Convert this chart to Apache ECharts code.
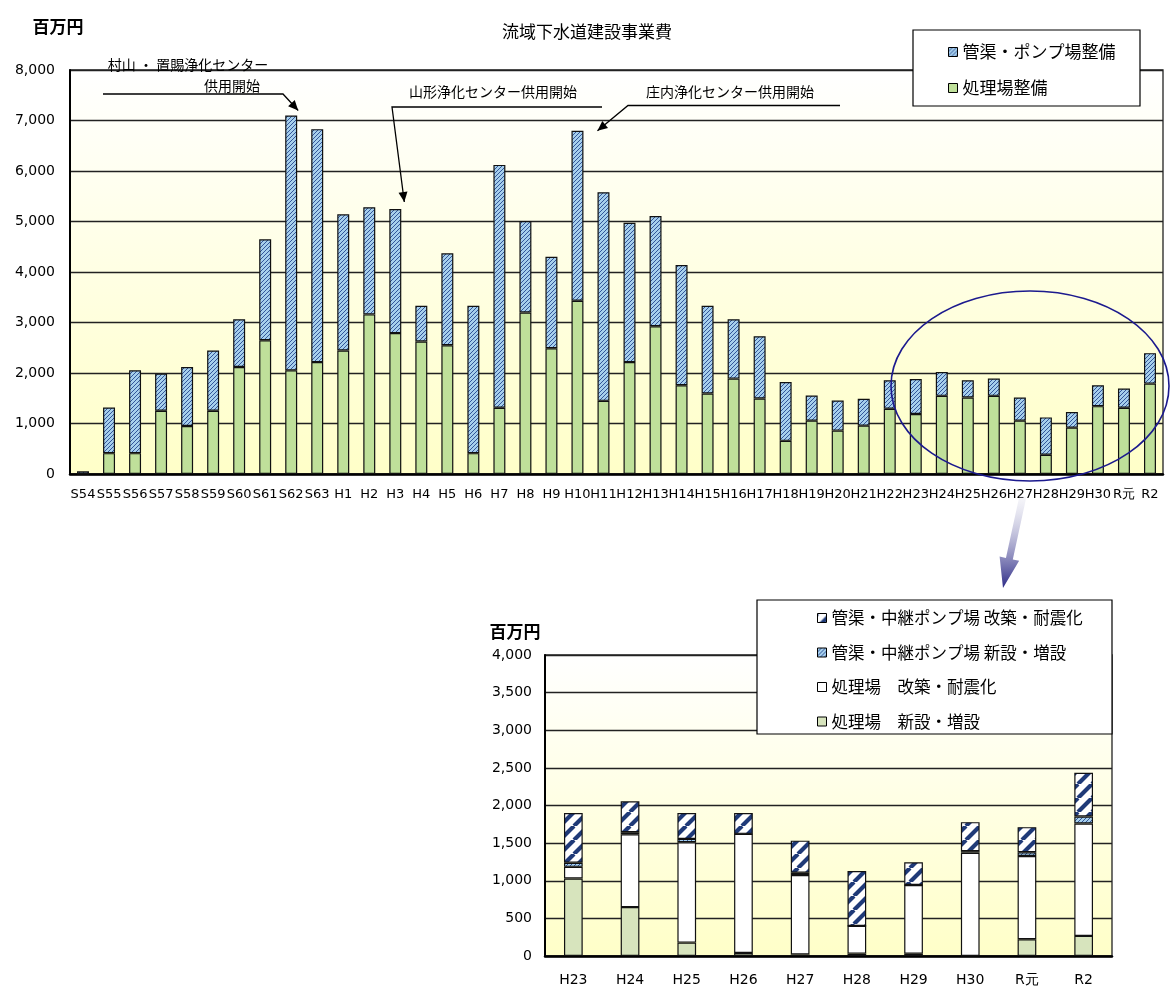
<!DOCTYPE html>
<html>
<head>
<meta charset="utf-8">
<script src="https://cdn.jsdelivr.net/npm/echarts@6/dist/echarts.min.js"></script>
<style>
  html, body { margin: 0; padding: 0; background: #fff; }
  #chart { width: 1170px; height: 987px; }
</style>
</head>
<body>
<div id="chart"></div>
<script>
// 年度（上段：全期間）
const years = ['S54','S55','S56','S57','S58','S59','S60','S61','S62','S63',
  'H1','H2','H3','H4','H5','H6','H7','H8','H9','H10',
  'H11','H12','H13','H14','H15','H16','H17','H18','H19','H20',
  'H21','H22','H23','H24','H25','H26','H27','H28','H29','H30','R元','R2'];

// 処理場整備（百万円）
const plantWorks = [0, 413, 413, 1252, 951, 1252, 2118, 2650, 2052, 2216,
  2446, 3160, 2790, 2625, 2550, 413, 1311, 3198, 2490, 3430,
  1449, 2216, 2927, 1757, 1593, 1889, 1495, 656, 1056, 859,
  957, 1292, 1187, 1548, 1515, 1548, 1056, 380, 918, 1344, 1311, 1790];

// 管渠・ポンプ場整備（百万円）
const sewerWorks = [52, 905, 1639, 735, 1167, 1194, 947, 1997, 5047, 4613,
  2697, 2122, 2458, 705, 1819, 2917, 4810, 1812, 1812, 3366,
  4130, 2760, 2182, 2380, 1737, 1176, 1233, 1167, 498, 597,
  532, 564, 695, 472, 341, 341, 459, 741, 308, 413, 381, 603];

// 年度（下段：H23以降の内訳）
const recentYears = ['H23','H24','H25','H26','H27','H28','H29','H30','R元','R2'];
const plantNew     = [1030, 650, 178, 40, 20, 32, 30, 0, 223, 267];
const plantRenew   = [155, 968, 1334, 1583, 1056, 368, 913, 1373, 1106, 1493];
const sewerNew     = [55, 27, 44, 0, 31, 0, 0, 20, 50, 93];
const sewerRenew   = [660, 410, 343, 276, 426, 729, 302, 386, 333, 583];

// 系列名
const NAME_SEWER = '管渠・ポンプ場整備';
const NAME_PLANT = '処理場整備';
const NAME_SR = '管渠・中継ポンプ場 改築・耐震化';
const NAME_SN = '管渠・中継ポンプ場 新設・増設';
const NAME_PR = '処理場　改築・耐震化';
const NAME_PN = '処理場　新設・増設';

const JP = '"Noto Sans CJK JP", "Noto Sans", sans-serif';
const NUM = '"DejaVu Sans", Verdana, sans-serif';

// 斜線ハッチのパターンを作る
function hatch(bg, fg, size, lw) {
  const c = document.createElement('canvas');
  c.width = size; c.height = size;
  const g = c.getContext('2d');
  g.fillStyle = bg;
  g.fillRect(0, 0, size, size);
  g.strokeStyle = fg;
  g.lineWidth = lw;
  g.beginPath();
  for (const o of [-size, 0, size]) {
    g.moveTo(o, size);
    g.lineTo(o + size, 0);
  }
  g.stroke();
  return { image: c, repeat: 'repeat' };
}

const fineBlue = hatch('#a6cfec', '#33569a', 4, 1);
const boldNavy = hatch('#ffffff', '#1f3a78', 14, 4.2);
const green = '#bfe09a';
const sage = '#d7e4bd';

const plotBg = {
  type: 'linear', x: 0, y: 0, x2: 0, y2: 1,
  colorStops: [{ offset: 0, color: '#ffffff' }, { offset: 1, color: '#ffffc8' }]
};

const barBorder = { borderColor: '#111', borderWidth: 1.2 };

const chart = echarts.init(document.getElementById('chart'), null, { renderer: 'canvas' });

const option = {
  animation: false,
  backgroundColor: '#ffffff',
  grid: [
    { left: 70, top: 70, width: 1093, height: 404, show: true,
      backgroundColor: plotBg, borderColor: '#222', borderWidth: 1.3 },
    { left: 545, top: 655, width: 567, height: 301, show: true,
      backgroundColor: plotBg, borderColor: '#222', borderWidth: 1.3 }
  ],
  xAxis: [
    { type: 'category', gridIndex: 0, data: years,
      axisLine: { lineStyle: { color: '#000', width: 2.5 } },
      axisTick: { inside: true, length: 4, lineStyle: { color: '#000', width: 1.2 } },
      axisLabel: { interval: 0, color: '#000', fontSize: 13, fontFamily: NUM, margin: 14 } },
    { type: 'category', gridIndex: 1, data: recentYears,
      axisLine: { lineStyle: { color: '#000', width: 2.5 } },
      axisTick: { inside: true, length: 5, lineStyle: { color: '#000', width: 1.2 } },
      axisLabel: { interval: 0, color: '#000', fontSize: 14, fontFamily: NUM, margin: 17 } }
  ],
  yAxis: [
    { type: 'value', gridIndex: 0, min: 0, max: 8000, interval: 1000,
      axisLine: { show: true, lineStyle: { color: '#000', width: 2 } },
      axisTick: { show: false },
      splitLine: { lineStyle: { color: '#222', width: 1.3 } },
      axisLabel: { color: '#000', fontSize: 14, fontFamily: NUM, margin: 15,
        formatter: v => v.toLocaleString('en-US') } },
    { type: 'value', gridIndex: 1, min: 0, max: 4000, interval: 500,
      axisLine: { show: true, lineStyle: { color: '#000', width: 2 } },
      axisTick: { show: false },
      splitLine: { lineStyle: { color: '#222', width: 1.3 } },
      axisLabel: { color: '#000', fontSize: 14, fontFamily: NUM, margin: 13,
        formatter: v => v.toLocaleString('en-US') } }
  ],
  legend: [
    { data: [NAME_SEWER, NAME_PLANT], orient: 'vertical', left: 948, top: 42,
      padding: 0, itemGap: 16, itemWidth: 9, itemHeight: 9, z: 20, icon: 'rect',
      itemStyle: { borderColor: '#000', borderWidth: 1 },
      textStyle: { fontSize: 17, fontFamily: JP, color: '#000', lineHeight: 20 } },
    { data: [NAME_SR, NAME_SN, NAME_PR, NAME_PN], orient: 'vertical', left: 817, top: 608,
      padding: 0, itemGap: 14.5, itemWidth: 9, itemHeight: 9, z: 20, icon: 'rect',
      itemStyle: { borderColor: '#000', borderWidth: 1 },
      textStyle: { fontSize: 16.5, fontFamily: JP, color: '#000', lineHeight: 20 } }
  ],
  series: [
    { name: NAME_PLANT, type: 'bar', xAxisIndex: 0, yAxisIndex: 0, stack: 'all',
      barWidth: '46%', data: plantWorks, itemStyle: Object.assign({ color: green }, barBorder) },
    { name: NAME_SEWER, type: 'bar', xAxisIndex: 0, yAxisIndex: 0, stack: 'all',
      barWidth: '46%', data: sewerWorks, itemStyle: Object.assign({ color: fineBlue }, barBorder) },

    { name: NAME_PN, type: 'bar', xAxisIndex: 1, yAxisIndex: 1, stack: 'recent',
      barWidth: '33%', data: plantNew, itemStyle: Object.assign({ color: sage }, barBorder) },
    { name: NAME_PR, type: 'bar', xAxisIndex: 1, yAxisIndex: 1, stack: 'recent',
      barWidth: '33%', data: plantRenew, itemStyle: Object.assign({ color: '#ffffff' }, barBorder) },
    { name: NAME_SN, type: 'bar', xAxisIndex: 1, yAxisIndex: 1, stack: 'recent',
      barWidth: '33%', data: sewerNew, itemStyle: Object.assign({ color: fineBlue }, barBorder) },
    { name: NAME_SR, type: 'bar', xAxisIndex: 1, yAxisIndex: 1, stack: 'recent',
      barWidth: '33%', data: sewerRenew, itemStyle: Object.assign({ color: boldNavy }, barBorder) }
  ]
};

chart.setOption(option);

// 積み上げ棒の頂点（画素座標）
function barTop(cat) {
  const i = years.indexOf(cat);
  return chart.convertToPixel({ gridIndex: 0 }, [i, plantWorks[i] + sewerWorks[i]]);
}

// 矢印の頭（三角形）
function arrowHead(from, to, len, half) {
  const dx = to[0] - from[0], dy = to[1] - from[1];
  const L = Math.hypot(dx, dy);
  const ux = dx / L, uy = dy / L, nx = -uy, ny = ux;
  const bx = to[0] - ux * len, by = to[1] - uy * len;
  return [[to[0], to[1]], [bx + nx * half, by + ny * half], [bx - nx * half, by - ny * half]];
}

function callout(points, color) {
  const n = points.length;
  return [
    { type: 'polyline', z: 30, shape: { points: points },
      style: { stroke: color, lineWidth: 1.3, fill: null } },
    { type: 'polygon', z: 30, shape: { points: arrowHead(points[n - 2], points[n - 1], 10, 4.5) },
      style: { fill: color } }
  ];
}

function label(text, x, y, size, bold) {
  return { type: 'text', z: 30, x: x, y: y,
    style: { text: text, fill: '#000', font: (bold ? 'bold ' : '') + size + 'px ' + JP,
      textAlign: 'center', textVerticalAlign: 'middle' } };
}

const s62 = barTop('S62');
const h3 = barTop('H3');
const h10 = barTop('H10');

// 下段へ導くグラデーション矢印
function fatArrow(start, tip, shaftHalf, headHalf, headLen) {
  const dx = tip[0] - start[0], dy = tip[1] - start[1];
  const L = Math.hypot(dx, dy);
  const ux = dx / L, uy = dy / L, nx = -uy, ny = ux;
  const bx = tip[0] - ux * headLen, by = tip[1] - uy * headLen;
  return [
    [start[0] + nx * shaftHalf, start[1] + ny * shaftHalf],
    [bx + nx * shaftHalf, by + ny * shaftHalf],
    [bx + nx * headHalf, by + ny * headHalf],
    [tip[0], tip[1]],
    [bx - nx * headHalf, by - ny * headHalf],
    [bx - nx * shaftHalf, by - ny * shaftHalf],
    [start[0] - nx * shaftHalf, start[1] - ny * shaftHalf]
  ];
}

const graphics = [
  // 凡例の枠
  { type: 'rect', z: 15, shape: { x: 913, y: 30, width: 227, height: 76 },
    style: { fill: '#fff', stroke: '#000', lineWidth: 1.2 } },
  { type: 'rect', z: 15, shape: { x: 757, y: 600, width: 355, height: 134 },
    style: { fill: '#fff', stroke: '#000', lineWidth: 1.2 } },

  // 見出し・単位
  label('流域下水道建設事業費', 587, 32, 17, false),
  label('百万円', 58, 27, 17, true),
  label('百万円', 515, 632, 17, true),

  // 供用開始の注記
  label('村山 ・ 置賜浄化センター', 188, 65, 14, false),
  label('供用開始', 232, 86, 14, false),
  label('山形浄化センター供用開始', 493, 92, 14, false),
  label('庄内浄化センター供用開始', 730, 92, 14, false),
  ...callout([[103, 94], [283, 94], [s62[0] + 7, s62[1] - 5]], '#000'),
  ...callout([[602, 107], [392, 107], [h3[0] + 9, h3[1] - 7]], '#000'),
  ...callout([[840, 105.5], [628, 105.5], [h10[0] + 20, h10[1]]], '#000'),

  // H23以降を囲む楕円
  { type: 'ellipse', z: 25, shape: { cx: 1030, cy: 386, rx: 139, ry: 95 },
    style: { fill: null, stroke: '#1c1a8e', lineWidth: 1.6 } },

  { type: 'polygon', z: 25, shape: { points: fatArrow([1023, 496], [1003, 588], 3.5, 10, 30) },
    style: { fill: { type: 'linear', x: 0, y: 0, x2: 0, y2: 1,
      colorStops: [{ offset: 0, color: 'rgba(230,230,240,0.3)' }, { offset: 1, color: '#2c2a86' }] } } }
];

chart.setOption({ graphic: { elements: graphics } });
</script>
</body>
</html>
